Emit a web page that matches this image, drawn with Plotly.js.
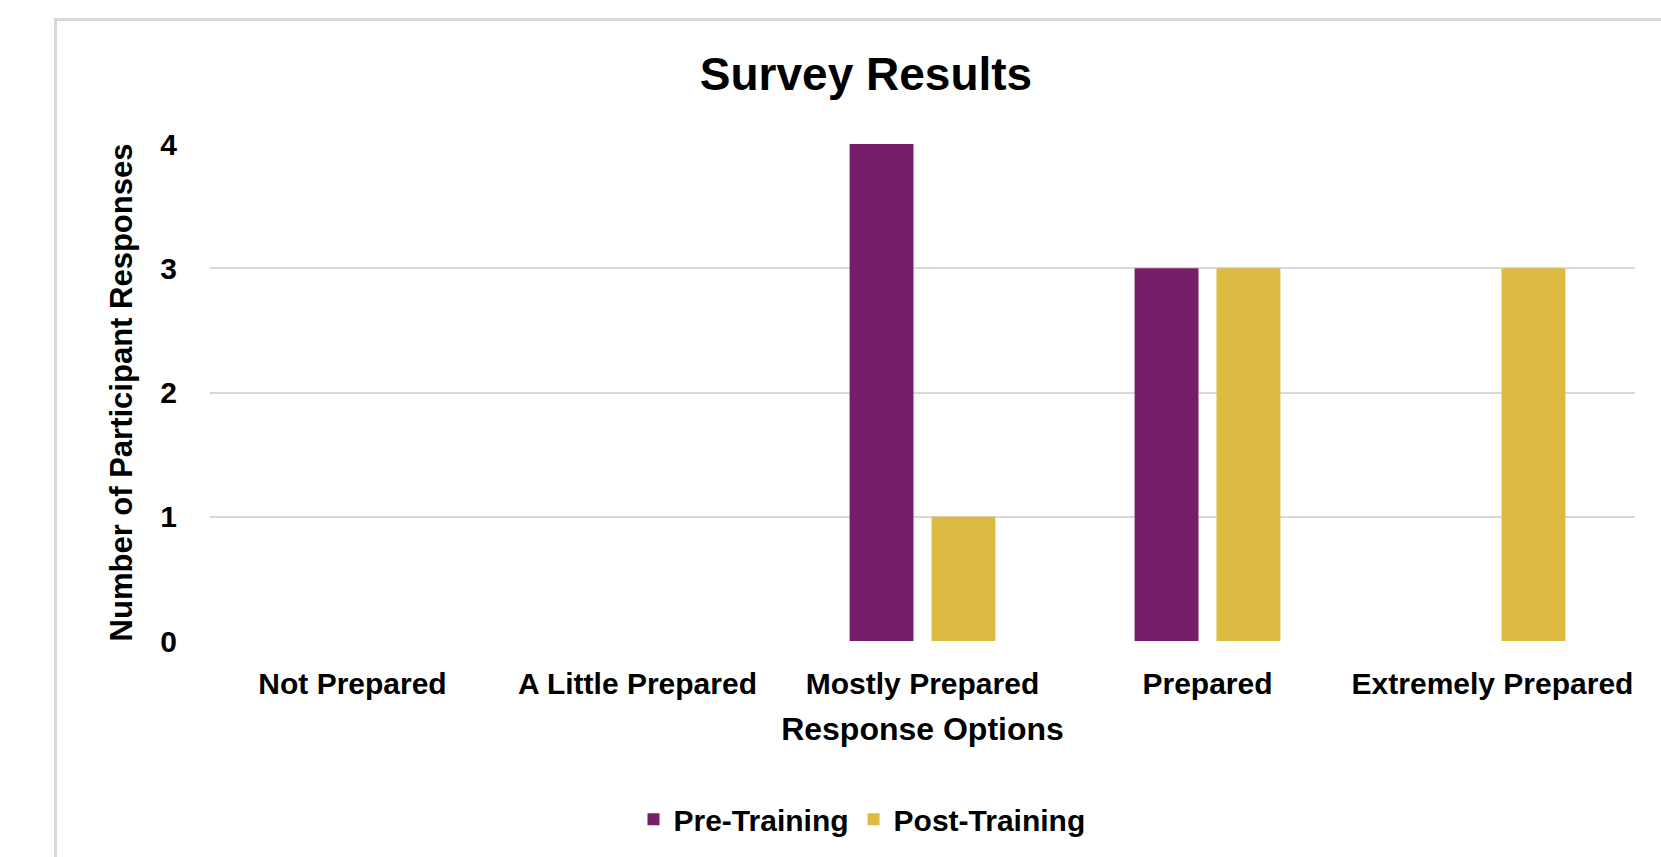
<!DOCTYPE html>
<html>
<head>
<meta charset="utf-8">
<script src="https://cdn.plot.ly/plotly-3.0.1.min.js"></script>
<style>
  html, body { margin: 0; padding: 0; background: #ffffff; }
  #wrap { position: relative; width: 1661px; height: 857px; overflow: hidden; background: #ffffff; }
  #frame { position: absolute; left: 54px; top: 18px; width: 2000px; height: 2000px; border: 3px solid #d9d9d9; box-sizing: border-box; }
  #chart { position: absolute; left: 0; top: 0; width: 1661px; height: 857px; }
</style>
</head>
<body>
<div id="wrap">
  <div id="frame"></div>
  <div id="chart"></div>
</div>
<script>
// Data
const categories = ["Not Prepared", "A Little Prepared", "Mostly Prepared", "Prepared", "Extremely Prepared"];
const preTraining = [0, 0, 4, 3, 0];
const postTraining = [0, 0, 1, 3, 3];
const yTickValues = [0, 1, 2, 3, 4];
const chartTitle = "Survey Results";
const xTitle = "Response Options";
const yTitle = "Number of Participant Responses";
const seriesNames = ["Pre-Training", "Post-Training"];

const FONT = '"Liberation Sans", Arial, sans-serif';

const traces = [
  { type: 'bar', name: seriesNames[0], x: categories, y: preTraining,
    marker: { color: '#781E69', line: { width: 0 } }, hoverinfo: 'x+y+name' },
  { type: 'bar', name: seriesNames[1], x: categories, y: postTraining,
    marker: { color: '#DDBA41', line: { width: 0 } }, hoverinfo: 'x+y+name' }
];

const layout = {
  width: 1661, height: 857,
  paper_bgcolor: 'rgba(0,0,0,0)',
  plot_bgcolor: 'rgba(0,0,0,0)',
  margin: { l: 210, r: 26, t: 144, b: 214, pad: 0 },
  font: { family: FONT, color: '#000000', size: 30, weight: 'bold' },
  barmode: 'group',
  bargap: 0.425,
  bargroupgap: 0.22,
  title: {
    text: '<b>' + chartTitle + '</b>',
    font: { family: FONT, size: 46, color: '#000000' },
    xref: 'container', x: 866 / 1661, xanchor: 'center',
    yref: 'container', y: 1 - 74 / 857, yanchor: 'middle'
  },
  xaxis: {
    type: 'category',
    tickfont: { family: FONT, size: 30, color: '#000000', weight: 'bold' },
    ticks: 'outside', ticklen: 16, tickcolor: 'rgba(0,0,0,0)',
    showline: false, showgrid: false, zeroline: false,
    title: { text: '<b>' + xTitle + '</b>', font: { family: FONT, size: 32, color: '#000000' }, standoff: 18 }
  },
  yaxis: {
    range: [0, 4],
    tickvals: yTickValues,
    tickfont: { family: FONT, size: 30, color: '#000000', weight: 'bold' },
    ticks: 'outside', ticklen: 26, tickcolor: 'rgba(0,0,0,0)',
    showgrid: true, gridcolor: '#d9d9d9', gridwidth: 2,
    zeroline: false, showline: false,
    title: { text: '<b>' + yTitle + '</b>', font: { family: FONT, size: 31, color: '#000000' }, standoff: 18 }
  },
  showlegend: true,
  legend: {
    orientation: 'h',
    x: (862 - 210) / 1425, xanchor: 'center',
    y: (643 - 822) / 499, yanchor: 'middle',
    font: { family: FONT, size: 30, color: '#000000', weight: 'bold' },
    itemwidth: 30,
    bgcolor: 'rgba(0,0,0,0)'
  }
};

Plotly.newPlot('chart', traces, layout, { displayModeBar: false, staticPlot: true });
</script>
</body>
</html>
